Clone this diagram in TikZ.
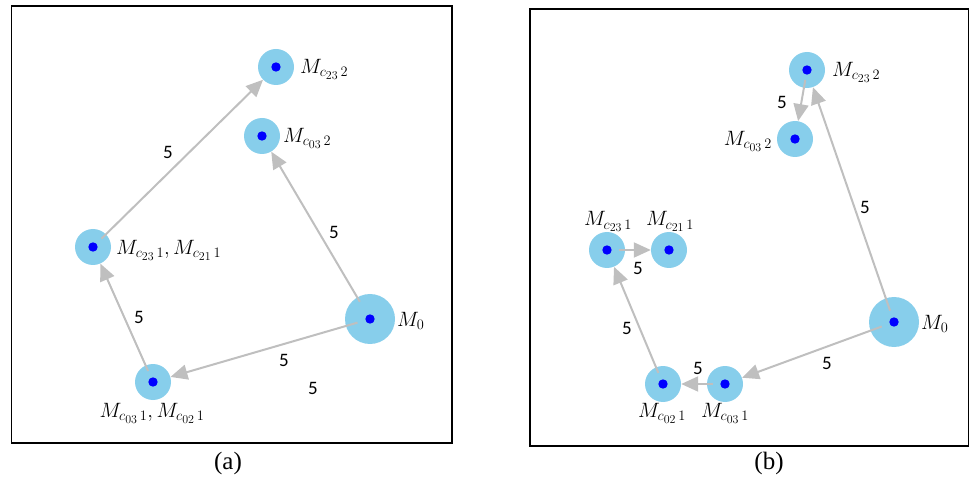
\documentclass[tikz,border=0pt]{standalone}
\usepackage{fontspec}
\setmainfont{Liberation Serif}
\newfontfamily\numfont{Carlito}
\usetikzlibrary{arrows.meta,calc}
\definecolor{nodeblue}{HTML}{87CEEB}
\definecolor{edgegray}{HTML}{BFBFBF}
\begin{document}
\begin{tikzpicture}[x=1pt,y=-1pt,
  mnode/.style={circle, fill=nodeblue, minimum size=36pt, inner sep=0pt,
    path picture={\fill[blue] (path picture bounding box.center) circle (4.7pt);}},
  bignode/.style={mnode, minimum size=50pt},
  edge/.style={draw=edgegray, line width=2pt, -{Triangle[length=17pt,width=15pt]}},
  wlab/.style={font=\numfont\fontsize{19}{19}\selectfont, inner sep=0pt},
  mlab/.style={font=\fontsize{20.74}{21}\selectfont, inner sep=0pt},
  captext/.style={font=\fontsize{25}{25}\selectfont, inner sep=0pt},
  framebox/.style={draw=black, line width=1.8pt}]
\useasboundingbox (0,0) rectangle (970,481);
% ---------- panel (a)
\draw[framebox] (11.5,6) rectangle (452,443);
\node[mnode] (a2) at (276,67) {};
\node[mnode] (a3) at (262,136) {};
\node[mnode] (a1) at (93,247) {};
\node[mnode] (a0) at (153,382) {};
\node[bignode] (aM) at (370,319) {};
\node[mlab, anchor=west] (la2) at (300,69) {$M_{c_{23}\,2}$};
\node[mlab, anchor=west] (la3) at (283,138) {$M_{c_{03}\,2}$};
\node[mlab, anchor=west] (la1) at (116,250) {$M_{c_{23}\,1}, M_{c_{21}\,1}$};
\node[mlab, anchor=north] (la0) at (152,403) {$M_{c_{03}\,1}, M_{c_{02}\,1}$};
\node[mlab, anchor=west] (laM) at (397,321) {$M_0$};
\draw[edge] ($(aM)!13pt!(a0)$) -- (a0);
\draw[edge] ($(aM)!20pt!(a3)$) -- (a3);
\draw[edge] ($(a0)!12pt!(a1)$) -- (a1);
\draw[edge] ($(a1)!12pt!(a2)$) -- (a2);
\node[wlab] (wa1) at (284,360) {5};
\node[wlab] (wa2) at (313,388) {5};
\node[wlab] (wa3) at (139,317) {5};
\node[wlab] (wa4) at (168,152) {5};
\node[wlab] (wa5) at (334,232) {5};
\node[captext] (capa) at (228,463) {(a)};
% ---------- panel (b)
\draw[framebox] (530,9) rectangle (968.5,446);
\node[mnode] (b5) at (807,70) {};
\node[mnode] (b6) at (795,139) {};
\node[mnode] (b1) at (607,250) {};
\node[mnode] (b2) at (669,250) {};
\node[mnode] (b3) at (663,384) {};
\node[mnode] (b4) at (725,384) {};
\node[bignode] (bM) at (894,322) {};
\node[mlab, anchor=west] (lb5) at (832,72) {$M_{c_{23}\,2}$};
\node[mlab, anchor=east] (lb6) at (772,141) {$M_{c_{03}\,2}$};
\node[mlab, anchor=south] (lb1) at (608,232) {$M_{c_{23}\,1}$};
\node[mlab, anchor=south] (lb2) at (670,232) {$M_{c_{21}\,1}$};
\node[mlab, anchor=north] (lb3) at (662,403) {$M_{c_{02}\,1}$};
\node[mlab, anchor=north] (lb4) at (725,403) {$M_{c_{03}\,1}$};
\node[mlab, anchor=west] (lbM) at (921,324) {$M_0$};
\draw[edge] ($(bM)!13pt!(b4)$) -- (b4);
\draw[edge] ($(b4)!12pt!(b3)$) -- (b3);
\draw[edge] ($(b3)!12pt!(b1)$) -- (b1);
\draw[edge] ($(b1)!12pt!(b2)$) -- (b2);
\draw[edge] ($(bM)!12pt!(b5)$) -- (b5);
\draw[edge] ($(b5)!10pt!(b6)$) -- (b6);
\node[wlab] (wb1) at (827,363) {5};
\node[wlab] (wb2) at (698,368) {5};
\node[wlab] (wb3) at (627,328) {5};
\node[wlab] (wb4) at (638,268) {5};
\node[wlab] (wb5) at (865,207) {5};
\node[wlab] (wb6) at (782,102) {5};
\node[captext] (capb) at (769,463) {(b)};
\end{tikzpicture}
\end{document}
